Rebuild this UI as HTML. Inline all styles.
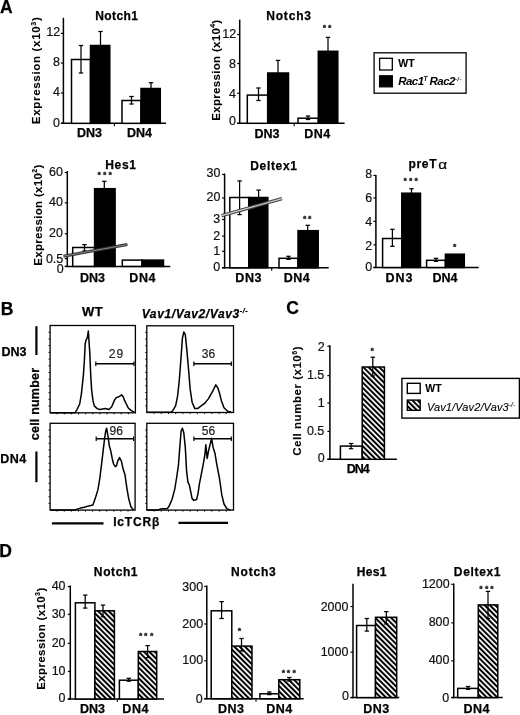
<!DOCTYPE html><html><head><meta charset="utf-8"><title>Figure</title><style>html,body{margin:0;padding:0;background:#fff;}svg{display:block;}text{font-family:'Liberation Sans', Arial, Helvetica, sans-serif;}</style></head><body>
<svg width="520" height="715" viewBox="0 0 520 715">
<defs><pattern id="hatch" patternUnits="userSpaceOnUse" width="3.75" height="3.75" patternTransform="rotate(-45)"><rect width="3.75" height="3.75" fill="#fff"/><rect x="0" y="0" width="2.0" height="3.75" fill="#000"/></pattern></defs>
<rect width="520" height="715" fill="#fff"/>
<line x1="63.40" y1="17.80" x2="63.40" y2="123.95" stroke="#000" stroke-width="1.5"/>
<line x1="60.90" y1="123.35" x2="166.00" y2="123.35" stroke="#000" stroke-width="1.5"/>
<line x1="60.90" y1="123.35" x2="63.40" y2="123.35" stroke="#000" stroke-width="1.2"/>
<line x1="60.90" y1="93.00" x2="63.40" y2="93.00" stroke="#000" stroke-width="1.2"/>
<line x1="60.90" y1="63.00" x2="63.40" y2="63.00" stroke="#000" stroke-width="1.2"/>
<line x1="60.90" y1="33.40" x2="63.40" y2="33.40" stroke="#000" stroke-width="1.2"/>
<line x1="114.40" y1="123.35" x2="114.40" y2="126.35" stroke="#000" stroke-width="1.1"/>
<rect x="71.50" y="59.50" width="19.00" height="63.85" fill="#fff" stroke="#000" stroke-width="1.5"/>
<line x1="81.00" y1="45.50" x2="81.00" y2="73.00" stroke="#000" stroke-width="1.25"/>
<line x1="78.80" y1="45.50" x2="83.20" y2="45.50" stroke="#000" stroke-width="1.25"/>
<line x1="78.80" y1="73.00" x2="83.20" y2="73.00" stroke="#000" stroke-width="1.25"/>
<rect x="90.50" y="45.50" width="19.30" height="77.85" fill="#000" stroke="#000" stroke-width="1.5"/>
<line x1="100.50" y1="31.50" x2="100.50" y2="50.00" stroke="#000" stroke-width="1.25"/>
<line x1="98.30" y1="31.50" x2="102.70" y2="31.50" stroke="#000" stroke-width="1.25"/>
<line x1="98.30" y1="50.00" x2="102.70" y2="50.00" stroke="#000" stroke-width="1.25"/>
<rect x="122.00" y="100.50" width="19.00" height="22.85" fill="#fff" stroke="#000" stroke-width="1.5"/>
<line x1="131.50" y1="96.50" x2="131.50" y2="104.00" stroke="#000" stroke-width="1.25"/>
<line x1="129.30" y1="96.50" x2="133.70" y2="96.50" stroke="#000" stroke-width="1.25"/>
<line x1="129.30" y1="104.00" x2="133.70" y2="104.00" stroke="#000" stroke-width="1.25"/>
<rect x="141.00" y="88.50" width="19.30" height="34.85" fill="#000" stroke="#000" stroke-width="1.5"/>
<line x1="151.00" y1="82.70" x2="151.00" y2="92.00" stroke="#000" stroke-width="1.25"/>
<line x1="148.80" y1="82.70" x2="153.20" y2="82.70" stroke="#000" stroke-width="1.25"/>
<line x1="148.80" y1="92.00" x2="153.20" y2="92.00" stroke="#000" stroke-width="1.25"/>
<line x1="239.70" y1="19.60" x2="239.70" y2="123.90" stroke="#000" stroke-width="1.5"/>
<line x1="237.20" y1="123.30" x2="344.60" y2="123.30" stroke="#000" stroke-width="1.5"/>
<line x1="237.20" y1="123.30" x2="239.70" y2="123.30" stroke="#000" stroke-width="1.2"/>
<line x1="237.20" y1="93.30" x2="239.70" y2="93.30" stroke="#000" stroke-width="1.2"/>
<line x1="237.20" y1="63.50" x2="239.70" y2="63.50" stroke="#000" stroke-width="1.2"/>
<line x1="237.20" y1="34.50" x2="239.70" y2="34.50" stroke="#000" stroke-width="1.2"/>
<line x1="294.20" y1="123.30" x2="294.20" y2="126.30" stroke="#000" stroke-width="1.1"/>
<rect x="247.30" y="95.10" width="20.40" height="28.20" fill="#fff" stroke="#000" stroke-width="1.5"/>
<line x1="258.50" y1="88.00" x2="258.50" y2="100.50" stroke="#000" stroke-width="1.25"/>
<line x1="256.30" y1="88.00" x2="260.70" y2="88.00" stroke="#000" stroke-width="1.25"/>
<line x1="256.30" y1="100.50" x2="260.70" y2="100.50" stroke="#000" stroke-width="1.25"/>
<rect x="267.70" y="73.00" width="20.80" height="50.30" fill="#000" stroke="#000" stroke-width="1.5"/>
<line x1="278.00" y1="60.40" x2="278.00" y2="78.00" stroke="#000" stroke-width="1.25"/>
<line x1="275.80" y1="60.40" x2="280.20" y2="60.40" stroke="#000" stroke-width="1.25"/>
<line x1="275.80" y1="78.00" x2="280.20" y2="78.00" stroke="#000" stroke-width="1.25"/>
<rect x="298.00" y="118.20" width="20.30" height="5.10" fill="#fff" stroke="#000" stroke-width="1.5"/>
<line x1="308.00" y1="116.00" x2="308.00" y2="119.50" stroke="#000" stroke-width="1.25"/>
<line x1="305.80" y1="116.00" x2="310.20" y2="116.00" stroke="#000" stroke-width="1.25"/>
<line x1="305.80" y1="119.50" x2="310.20" y2="119.50" stroke="#000" stroke-width="1.25"/>
<rect x="318.30" y="51.30" width="19.50" height="72.00" fill="#000" stroke="#000" stroke-width="1.5"/>
<line x1="328.00" y1="37.30" x2="328.00" y2="56.00" stroke="#000" stroke-width="1.25"/>
<line x1="325.80" y1="37.30" x2="330.20" y2="37.30" stroke="#000" stroke-width="1.25"/>
<line x1="325.80" y1="56.00" x2="330.20" y2="56.00" stroke="#000" stroke-width="1.25"/>
<rect x="374.10" y="52.80" width="92.00" height="40.40" fill="#fff" stroke="#000" stroke-width="1.3"/>
<rect x="379.60" y="58.30" width="12.70" height="11.70" fill="#fff" stroke="#000" stroke-width="1.3"/>
<rect x="379.60" y="75.80" width="12.70" height="11.00" fill="#000" stroke="#000" stroke-width="1.3"/>
<line x1="67.30" y1="171.10" x2="67.30" y2="267.00" stroke="#000" stroke-width="1.5"/>
<line x1="64.80" y1="266.40" x2="170.30" y2="266.40" stroke="#000" stroke-width="1.5"/>
<line x1="64.80" y1="266.40" x2="67.30" y2="266.40" stroke="#000" stroke-width="1.2"/>
<line x1="64.80" y1="258.60" x2="67.30" y2="258.60" stroke="#000" stroke-width="1.2"/>
<line x1="64.80" y1="233.80" x2="67.30" y2="233.80" stroke="#000" stroke-width="1.2"/>
<line x1="64.80" y1="202.80" x2="67.30" y2="202.80" stroke="#000" stroke-width="1.2"/>
<line x1="64.80" y1="172.50" x2="67.30" y2="172.50" stroke="#000" stroke-width="1.2"/>
<rect x="72.70" y="247.50" width="21.90" height="18.90" fill="#fff" stroke="#000" stroke-width="1.5"/>
<line x1="84.50" y1="244.60" x2="84.50" y2="251.00" stroke="#000" stroke-width="1.25"/>
<line x1="82.30" y1="244.60" x2="86.70" y2="244.60" stroke="#000" stroke-width="1.25"/>
<line x1="82.30" y1="251.00" x2="86.70" y2="251.00" stroke="#000" stroke-width="1.25"/>
<rect x="94.60" y="188.70" width="20.50" height="77.70" fill="#000" stroke="#000" stroke-width="1.5"/>
<line x1="104.30" y1="181.30" x2="104.30" y2="194.00" stroke="#000" stroke-width="1.25"/>
<line x1="102.10" y1="181.30" x2="106.50" y2="181.30" stroke="#000" stroke-width="1.25"/>
<line x1="102.10" y1="194.00" x2="106.50" y2="194.00" stroke="#000" stroke-width="1.25"/>
<rect x="122.30" y="260.10" width="19.70" height="6.30" fill="#fff" stroke="#000" stroke-width="1.5"/>
<rect x="142.00" y="260.10" width="21.50" height="6.30" fill="#000" stroke="#000" stroke-width="1.5"/>
<line x1="63.50" y1="256.20" x2="127.40" y2="244.60" stroke="#333" stroke-width="3.0"/>
<line x1="63.50" y1="256.20" x2="127.40" y2="244.60" stroke="#999" stroke-width="0.8"/>
<line x1="224.60" y1="173.50" x2="224.60" y2="268.40" stroke="#000" stroke-width="1.5"/>
<line x1="222.10" y1="267.80" x2="328.70" y2="267.80" stroke="#000" stroke-width="1.5"/>
<line x1="222.10" y1="267.80" x2="224.60" y2="267.80" stroke="#000" stroke-width="1.2"/>
<line x1="222.10" y1="251.30" x2="224.60" y2="251.30" stroke="#000" stroke-width="1.2"/>
<line x1="222.10" y1="236.10" x2="224.60" y2="236.10" stroke="#000" stroke-width="1.2"/>
<line x1="222.10" y1="219.50" x2="224.60" y2="219.50" stroke="#000" stroke-width="1.2"/>
<line x1="222.10" y1="198.00" x2="224.60" y2="198.00" stroke="#000" stroke-width="1.2"/>
<line x1="222.10" y1="174.50" x2="224.60" y2="174.50" stroke="#000" stroke-width="1.2"/>
<line x1="271.70" y1="267.80" x2="271.70" y2="270.80" stroke="#000" stroke-width="1.1"/>
<rect x="229.80" y="197.50" width="19.00" height="70.30" fill="#fff" stroke="#000" stroke-width="1.5"/>
<line x1="239.60" y1="180.90" x2="239.60" y2="214.60" stroke="#000" stroke-width="1.25"/>
<line x1="237.40" y1="180.90" x2="241.80" y2="180.90" stroke="#000" stroke-width="1.25"/>
<line x1="237.40" y1="214.60" x2="241.80" y2="214.60" stroke="#000" stroke-width="1.25"/>
<rect x="248.80" y="197.50" width="19.00" height="70.30" fill="#000" stroke="#000" stroke-width="1.5"/>
<line x1="258.60" y1="190.10" x2="258.60" y2="204.00" stroke="#000" stroke-width="1.25"/>
<line x1="256.40" y1="190.10" x2="260.80" y2="190.10" stroke="#000" stroke-width="1.25"/>
<line x1="256.40" y1="204.00" x2="260.80" y2="204.00" stroke="#000" stroke-width="1.25"/>
<rect x="279.00" y="258.30" width="19.00" height="9.50" fill="#fff" stroke="#000" stroke-width="1.5"/>
<line x1="288.50" y1="256.30" x2="288.50" y2="259.30" stroke="#000" stroke-width="1.25"/>
<line x1="286.30" y1="256.30" x2="290.70" y2="256.30" stroke="#000" stroke-width="1.25"/>
<line x1="286.30" y1="259.30" x2="290.70" y2="259.30" stroke="#000" stroke-width="1.25"/>
<rect x="298.00" y="230.70" width="20.20" height="37.10" fill="#000" stroke="#000" stroke-width="1.5"/>
<line x1="307.70" y1="225.30" x2="307.70" y2="235.00" stroke="#000" stroke-width="1.25"/>
<line x1="305.50" y1="225.30" x2="309.90" y2="225.30" stroke="#000" stroke-width="1.25"/>
<line x1="305.50" y1="235.00" x2="309.90" y2="235.00" stroke="#000" stroke-width="1.25"/>
<line x1="221.6" y1="215.6" x2="282" y2="198.6" stroke="#444" stroke-width="3.4"/>
<line x1="221.6" y1="215.6" x2="282" y2="198.6" stroke="#d0d0d0" stroke-width="1.1"/>
<line x1="375.90" y1="175.00" x2="375.90" y2="268.10" stroke="#000" stroke-width="1.5"/>
<line x1="373.40" y1="267.50" x2="478.70" y2="267.50" stroke="#000" stroke-width="1.5"/>
<line x1="373.40" y1="267.50" x2="375.90" y2="267.50" stroke="#000" stroke-width="1.2"/>
<line x1="373.40" y1="244.90" x2="375.90" y2="244.90" stroke="#000" stroke-width="1.2"/>
<line x1="373.40" y1="221.40" x2="375.90" y2="221.40" stroke="#000" stroke-width="1.2"/>
<line x1="373.40" y1="198.00" x2="375.90" y2="198.00" stroke="#000" stroke-width="1.2"/>
<line x1="373.40" y1="175.40" x2="375.90" y2="175.40" stroke="#000" stroke-width="1.2"/>
<rect x="382.60" y="238.50" width="19.20" height="29.00" fill="#fff" stroke="#000" stroke-width="1.5"/>
<line x1="392.40" y1="229.30" x2="392.40" y2="246.30" stroke="#000" stroke-width="1.25"/>
<line x1="390.20" y1="229.30" x2="394.60" y2="229.30" stroke="#000" stroke-width="1.25"/>
<line x1="390.20" y1="246.30" x2="394.60" y2="246.30" stroke="#000" stroke-width="1.25"/>
<rect x="401.80" y="193.20" width="18.70" height="74.30" fill="#000" stroke="#000" stroke-width="1.5"/>
<line x1="411.50" y1="188.70" x2="411.50" y2="197.00" stroke="#000" stroke-width="1.25"/>
<line x1="409.30" y1="188.70" x2="413.70" y2="188.70" stroke="#000" stroke-width="1.25"/>
<line x1="409.30" y1="197.00" x2="413.70" y2="197.00" stroke="#000" stroke-width="1.25"/>
<rect x="426.60" y="260.30" width="18.80" height="7.20" fill="#fff" stroke="#000" stroke-width="1.5"/>
<line x1="436.00" y1="258.30" x2="436.00" y2="261.30" stroke="#000" stroke-width="1.25"/>
<line x1="433.80" y1="258.30" x2="438.20" y2="258.30" stroke="#000" stroke-width="1.25"/>
<line x1="433.80" y1="261.30" x2="438.20" y2="261.30" stroke="#000" stroke-width="1.25"/>
<rect x="445.40" y="254.20" width="18.90" height="13.30" fill="#000" stroke="#000" stroke-width="1.5"/>
<line x1="36.40" y1="326.20" x2="36.40" y2="355.00" stroke="#000" stroke-width="2.2"/>
<line x1="36.40" y1="451.50" x2="36.40" y2="482.20" stroke="#000" stroke-width="2.2"/>
<line x1="51.90" y1="523.30" x2="103.50" y2="523.30" stroke="#000" stroke-width="2.2"/>
<line x1="178.50" y1="522.90" x2="228.10" y2="522.90" stroke="#000" stroke-width="2.2"/>
<rect x="50.1" y="325.5" width="85.30" height="87.30" fill="none" stroke="#000" stroke-width="1.3"/>
<line x1="48.50" y1="406.08" x2="50.10" y2="406.08" stroke="#000" stroke-width="0.9"/>
<line x1="48.50" y1="399.37" x2="50.10" y2="399.37" stroke="#000" stroke-width="0.9"/>
<line x1="48.50" y1="392.65" x2="50.10" y2="392.65" stroke="#000" stroke-width="0.9"/>
<line x1="48.50" y1="385.94" x2="50.10" y2="385.94" stroke="#000" stroke-width="0.9"/>
<line x1="48.50" y1="379.22" x2="50.10" y2="379.22" stroke="#000" stroke-width="0.9"/>
<line x1="48.50" y1="372.51" x2="50.10" y2="372.51" stroke="#000" stroke-width="0.9"/>
<line x1="48.50" y1="365.79" x2="50.10" y2="365.79" stroke="#000" stroke-width="0.9"/>
<line x1="48.50" y1="359.08" x2="50.10" y2="359.08" stroke="#000" stroke-width="0.9"/>
<line x1="48.50" y1="352.36" x2="50.10" y2="352.36" stroke="#000" stroke-width="0.9"/>
<line x1="48.50" y1="345.65" x2="50.10" y2="345.65" stroke="#000" stroke-width="0.9"/>
<line x1="48.50" y1="338.93" x2="50.10" y2="338.93" stroke="#000" stroke-width="0.9"/>
<line x1="48.50" y1="332.22" x2="50.10" y2="332.22" stroke="#000" stroke-width="0.9"/>
<line x1="57.21" y1="412.80" x2="57.21" y2="414.40" stroke="#000" stroke-width="0.9"/>
<line x1="64.32" y1="412.80" x2="64.32" y2="414.40" stroke="#000" stroke-width="0.9"/>
<line x1="71.43" y1="412.80" x2="71.43" y2="414.40" stroke="#000" stroke-width="0.9"/>
<line x1="78.53" y1="412.80" x2="78.53" y2="414.40" stroke="#000" stroke-width="0.9"/>
<line x1="85.64" y1="412.80" x2="85.64" y2="414.40" stroke="#000" stroke-width="0.9"/>
<line x1="92.75" y1="412.80" x2="92.75" y2="414.40" stroke="#000" stroke-width="0.9"/>
<line x1="99.86" y1="412.80" x2="99.86" y2="414.40" stroke="#000" stroke-width="0.9"/>
<line x1="106.97" y1="412.80" x2="106.97" y2="414.40" stroke="#000" stroke-width="0.9"/>
<line x1="114.08" y1="412.80" x2="114.08" y2="414.40" stroke="#000" stroke-width="0.9"/>
<line x1="121.18" y1="412.80" x2="121.18" y2="414.40" stroke="#000" stroke-width="0.9"/>
<line x1="128.29" y1="412.80" x2="128.29" y2="414.40" stroke="#000" stroke-width="0.9"/>
<polyline points="50.1,412.8 75.1,412.8 77.0,409.5 79.7,404.0 81.5,393.1 83.4,374.8 84.3,362.0 85.2,343.7 86.1,340.1 87.4,337.4 88.3,331.0 88.8,338.3 89.8,352.9 90.7,374.8 91.6,389.4 92.9,400.4 94.3,405.9 97.1,408.6 99.8,409.5 105.3,408.6 108.9,409.5 111.7,406.8 114.4,400.4 116.2,397.6 119.0,396.7 121.7,394.9 123.2,396.7 124.5,400.4 126.3,404.0 128.1,407.7 130.9,410.4 134.5,412.3" fill="none" stroke="#000" stroke-width="1.5" stroke-linejoin="round"/>
<line x1="95.80" y1="363.80" x2="134.00" y2="363.80" stroke="#000" stroke-width="1.4"/>
<line x1="95.80" y1="361.50" x2="95.80" y2="366.10" stroke="#000" stroke-width="1.2"/>
<line x1="134.00" y1="361.50" x2="134.00" y2="366.10" stroke="#000" stroke-width="1.2"/>
<rect x="146.8" y="325.8" width="86.70" height="86.70" fill="none" stroke="#000" stroke-width="1.3"/>
<line x1="145.20" y1="405.83" x2="146.80" y2="405.83" stroke="#000" stroke-width="0.9"/>
<line x1="145.20" y1="399.16" x2="146.80" y2="399.16" stroke="#000" stroke-width="0.9"/>
<line x1="145.20" y1="392.49" x2="146.80" y2="392.49" stroke="#000" stroke-width="0.9"/>
<line x1="145.20" y1="385.82" x2="146.80" y2="385.82" stroke="#000" stroke-width="0.9"/>
<line x1="145.20" y1="379.15" x2="146.80" y2="379.15" stroke="#000" stroke-width="0.9"/>
<line x1="145.20" y1="372.48" x2="146.80" y2="372.48" stroke="#000" stroke-width="0.9"/>
<line x1="145.20" y1="365.82" x2="146.80" y2="365.82" stroke="#000" stroke-width="0.9"/>
<line x1="145.20" y1="359.15" x2="146.80" y2="359.15" stroke="#000" stroke-width="0.9"/>
<line x1="145.20" y1="352.48" x2="146.80" y2="352.48" stroke="#000" stroke-width="0.9"/>
<line x1="145.20" y1="345.81" x2="146.80" y2="345.81" stroke="#000" stroke-width="0.9"/>
<line x1="145.20" y1="339.14" x2="146.80" y2="339.14" stroke="#000" stroke-width="0.9"/>
<line x1="145.20" y1="332.47" x2="146.80" y2="332.47" stroke="#000" stroke-width="0.9"/>
<line x1="154.03" y1="412.50" x2="154.03" y2="414.10" stroke="#000" stroke-width="0.9"/>
<line x1="161.25" y1="412.50" x2="161.25" y2="414.10" stroke="#000" stroke-width="0.9"/>
<line x1="168.48" y1="412.50" x2="168.48" y2="414.10" stroke="#000" stroke-width="0.9"/>
<line x1="175.70" y1="412.50" x2="175.70" y2="414.10" stroke="#000" stroke-width="0.9"/>
<line x1="182.93" y1="412.50" x2="182.93" y2="414.10" stroke="#000" stroke-width="0.9"/>
<line x1="190.15" y1="412.50" x2="190.15" y2="414.10" stroke="#000" stroke-width="0.9"/>
<line x1="197.38" y1="412.50" x2="197.38" y2="414.10" stroke="#000" stroke-width="0.9"/>
<line x1="204.60" y1="412.50" x2="204.60" y2="414.10" stroke="#000" stroke-width="0.9"/>
<line x1="211.82" y1="412.50" x2="211.82" y2="414.10" stroke="#000" stroke-width="0.9"/>
<line x1="219.05" y1="412.50" x2="219.05" y2="414.10" stroke="#000" stroke-width="0.9"/>
<line x1="226.27" y1="412.50" x2="226.27" y2="414.10" stroke="#000" stroke-width="0.9"/>
<polyline points="146.8,412.3 171.1,412.3 172.9,410.4 175.6,405.9 177.5,396.7 179.3,380.3 181.1,356.5 182.4,338.3 183.8,331.9 185.3,334.6 186.6,347.4 188.4,367.5 190.2,389.4 192.1,402.2 194.8,408.6 197.5,408.6 201.2,405.9 204.9,403.1 208.5,398.6 212.2,392.2 214.0,388.5 215.8,384.9 217.6,387.6 219.5,393.1 221.3,400.4 224.0,407.7 227.7,411.3 231.3,412.3" fill="none" stroke="#000" stroke-width="1.5" stroke-linejoin="round"/>
<line x1="193.90" y1="363.80" x2="231.30" y2="363.80" stroke="#000" stroke-width="1.4"/>
<line x1="193.90" y1="361.50" x2="193.90" y2="366.10" stroke="#000" stroke-width="1.2"/>
<line x1="231.30" y1="361.50" x2="231.30" y2="366.10" stroke="#000" stroke-width="1.2"/>
<rect x="50.1" y="423.3" width="85.00" height="86.80" fill="none" stroke="#000" stroke-width="1.3"/>
<line x1="48.50" y1="503.42" x2="50.10" y2="503.42" stroke="#000" stroke-width="0.9"/>
<line x1="48.50" y1="496.75" x2="50.10" y2="496.75" stroke="#000" stroke-width="0.9"/>
<line x1="48.50" y1="490.07" x2="50.10" y2="490.07" stroke="#000" stroke-width="0.9"/>
<line x1="48.50" y1="483.39" x2="50.10" y2="483.39" stroke="#000" stroke-width="0.9"/>
<line x1="48.50" y1="476.72" x2="50.10" y2="476.72" stroke="#000" stroke-width="0.9"/>
<line x1="48.50" y1="470.04" x2="50.10" y2="470.04" stroke="#000" stroke-width="0.9"/>
<line x1="48.50" y1="463.36" x2="50.10" y2="463.36" stroke="#000" stroke-width="0.9"/>
<line x1="48.50" y1="456.68" x2="50.10" y2="456.68" stroke="#000" stroke-width="0.9"/>
<line x1="48.50" y1="450.01" x2="50.10" y2="450.01" stroke="#000" stroke-width="0.9"/>
<line x1="48.50" y1="443.33" x2="50.10" y2="443.33" stroke="#000" stroke-width="0.9"/>
<line x1="48.50" y1="436.65" x2="50.10" y2="436.65" stroke="#000" stroke-width="0.9"/>
<line x1="48.50" y1="429.98" x2="50.10" y2="429.98" stroke="#000" stroke-width="0.9"/>
<line x1="57.18" y1="510.10" x2="57.18" y2="511.70" stroke="#000" stroke-width="0.9"/>
<line x1="64.27" y1="510.10" x2="64.27" y2="511.70" stroke="#000" stroke-width="0.9"/>
<line x1="71.35" y1="510.10" x2="71.35" y2="511.70" stroke="#000" stroke-width="0.9"/>
<line x1="78.43" y1="510.10" x2="78.43" y2="511.70" stroke="#000" stroke-width="0.9"/>
<line x1="85.52" y1="510.10" x2="85.52" y2="511.70" stroke="#000" stroke-width="0.9"/>
<line x1="92.60" y1="510.10" x2="92.60" y2="511.70" stroke="#000" stroke-width="0.9"/>
<line x1="99.68" y1="510.10" x2="99.68" y2="511.70" stroke="#000" stroke-width="0.9"/>
<line x1="106.77" y1="510.10" x2="106.77" y2="511.70" stroke="#000" stroke-width="0.9"/>
<line x1="113.85" y1="510.10" x2="113.85" y2="511.70" stroke="#000" stroke-width="0.9"/>
<line x1="120.93" y1="510.10" x2="120.93" y2="511.70" stroke="#000" stroke-width="0.9"/>
<line x1="128.02" y1="510.10" x2="128.02" y2="511.70" stroke="#000" stroke-width="0.9"/>
<polyline points="50.1,510.1 75.0,510.1 77.0,509.1 80.6,508.1 84.3,507.3 88.8,505.9 92.9,504.9 95.2,498.6 98.0,489.4 99.8,478.5 101.6,463.8 103.1,451.1 104.4,440.1 105.7,431.0 106.6,428.2 108.0,436.4 109.3,445.6 110.8,451.1 112.2,458.4 113.5,463.8 115.3,466.6 116.6,465.7 117.7,461.1 119.5,457.5 121.4,461.1 123.2,469.3 125.0,474.8 126.8,487.6 128.7,498.6 130.9,506.8 133.6,510.1" fill="none" stroke="#000" stroke-width="1.5" stroke-linejoin="round"/>
<line x1="96.20" y1="438.80" x2="133.60" y2="438.80" stroke="#000" stroke-width="1.4"/>
<line x1="96.20" y1="436.50" x2="96.20" y2="441.10" stroke="#000" stroke-width="1.2"/>
<line x1="133.60" y1="436.50" x2="133.60" y2="441.10" stroke="#000" stroke-width="1.2"/>
<rect x="146.8" y="423.3" width="86.70" height="86.80" fill="none" stroke="#000" stroke-width="1.3"/>
<line x1="145.20" y1="503.42" x2="146.80" y2="503.42" stroke="#000" stroke-width="0.9"/>
<line x1="145.20" y1="496.75" x2="146.80" y2="496.75" stroke="#000" stroke-width="0.9"/>
<line x1="145.20" y1="490.07" x2="146.80" y2="490.07" stroke="#000" stroke-width="0.9"/>
<line x1="145.20" y1="483.39" x2="146.80" y2="483.39" stroke="#000" stroke-width="0.9"/>
<line x1="145.20" y1="476.72" x2="146.80" y2="476.72" stroke="#000" stroke-width="0.9"/>
<line x1="145.20" y1="470.04" x2="146.80" y2="470.04" stroke="#000" stroke-width="0.9"/>
<line x1="145.20" y1="463.36" x2="146.80" y2="463.36" stroke="#000" stroke-width="0.9"/>
<line x1="145.20" y1="456.68" x2="146.80" y2="456.68" stroke="#000" stroke-width="0.9"/>
<line x1="145.20" y1="450.01" x2="146.80" y2="450.01" stroke="#000" stroke-width="0.9"/>
<line x1="145.20" y1="443.33" x2="146.80" y2="443.33" stroke="#000" stroke-width="0.9"/>
<line x1="145.20" y1="436.65" x2="146.80" y2="436.65" stroke="#000" stroke-width="0.9"/>
<line x1="145.20" y1="429.98" x2="146.80" y2="429.98" stroke="#000" stroke-width="0.9"/>
<line x1="154.03" y1="510.10" x2="154.03" y2="511.70" stroke="#000" stroke-width="0.9"/>
<line x1="161.25" y1="510.10" x2="161.25" y2="511.70" stroke="#000" stroke-width="0.9"/>
<line x1="168.48" y1="510.10" x2="168.48" y2="511.70" stroke="#000" stroke-width="0.9"/>
<line x1="175.70" y1="510.10" x2="175.70" y2="511.70" stroke="#000" stroke-width="0.9"/>
<line x1="182.93" y1="510.10" x2="182.93" y2="511.70" stroke="#000" stroke-width="0.9"/>
<line x1="190.15" y1="510.10" x2="190.15" y2="511.70" stroke="#000" stroke-width="0.9"/>
<line x1="197.38" y1="510.10" x2="197.38" y2="511.70" stroke="#000" stroke-width="0.9"/>
<line x1="204.60" y1="510.10" x2="204.60" y2="511.70" stroke="#000" stroke-width="0.9"/>
<line x1="211.82" y1="510.10" x2="211.82" y2="511.70" stroke="#000" stroke-width="0.9"/>
<line x1="219.05" y1="510.10" x2="219.05" y2="511.70" stroke="#000" stroke-width="0.9"/>
<line x1="226.27" y1="510.10" x2="226.27" y2="511.70" stroke="#000" stroke-width="0.9"/>
<polyline points="146.8,510.1 158.3,510.1 160.1,509.1 167.4,508.6 169.2,505.9 172.0,499.5 174.7,489.4 176.5,478.5 178.4,465.7 179.8,447.4 181.1,431.0 182.4,428.2 183.8,432.8 185.3,447.4 186.6,471.2 187.9,482.1 189.3,484.9 190.8,492.2 192.1,498.6 193.9,500.4 196.6,499.5 198.1,493.1 199.4,483.9 201.2,474.8 203.0,465.7 204.9,454.7 205.8,444.7 207.2,458.4 208.5,451.1 210.3,443.7 211.6,438.3 213.1,447.4 214.9,452.9 216.7,463.8 219.5,478.5 221.8,494.9 224.0,504.0 226.8,508.6 230.4,510.1" fill="none" stroke="#000" stroke-width="1.5" stroke-linejoin="round"/>
<line x1="193.90" y1="438.80" x2="231.30" y2="438.80" stroke="#000" stroke-width="1.4"/>
<line x1="193.90" y1="436.50" x2="193.90" y2="441.10" stroke="#000" stroke-width="1.2"/>
<line x1="231.30" y1="436.50" x2="231.30" y2="441.10" stroke="#000" stroke-width="1.2"/>
<line x1="329.90" y1="345.30" x2="329.90" y2="459.90" stroke="#000" stroke-width="1.5"/>
<line x1="327.40" y1="459.30" x2="396.90" y2="459.30" stroke="#000" stroke-width="1.5"/>
<line x1="327.40" y1="459.30" x2="329.90" y2="459.30" stroke="#000" stroke-width="1.2"/>
<line x1="327.40" y1="431.40" x2="329.90" y2="431.40" stroke="#000" stroke-width="1.2"/>
<line x1="327.40" y1="403.00" x2="329.90" y2="403.00" stroke="#000" stroke-width="1.2"/>
<line x1="327.40" y1="375.60" x2="329.90" y2="375.60" stroke="#000" stroke-width="1.2"/>
<line x1="327.40" y1="346.30" x2="329.90" y2="346.30" stroke="#000" stroke-width="1.2"/>
<rect x="340.40" y="446.10" width="21.80" height="13.20" fill="#fff" stroke="#000" stroke-width="1.5"/>
<line x1="351.10" y1="443.50" x2="351.10" y2="448.70" stroke="#000" stroke-width="1.25"/>
<line x1="348.90" y1="443.50" x2="353.30" y2="443.50" stroke="#000" stroke-width="1.25"/>
<line x1="348.90" y1="448.70" x2="353.30" y2="448.70" stroke="#000" stroke-width="1.25"/>
<rect x="362.20" y="367.00" width="22.20" height="92.30" fill="url(#hatch)" stroke="#000" stroke-width="1.5"/>
<line x1="372.80" y1="357.20" x2="372.80" y2="376.00" stroke="#000" stroke-width="1.25"/>
<line x1="370.60" y1="357.20" x2="375.00" y2="357.20" stroke="#000" stroke-width="1.25"/>
<line x1="370.60" y1="376.00" x2="375.00" y2="376.00" stroke="#000" stroke-width="1.25"/>
<rect x="401.90" y="378.40" width="117.50" height="39.70" fill="#fff" stroke="#000" stroke-width="1.4"/>
<rect x="407.30" y="383.30" width="12.90" height="10.10" fill="#fff" stroke="#000" stroke-width="1.4"/>
<rect x="407.30" y="400.10" width="12.90" height="10.20" fill="url(#hatch)" stroke="#000" stroke-width="1.4"/>
<line x1="70.30" y1="585.40" x2="70.30" y2="699.60" stroke="#000" stroke-width="1.5"/>
<line x1="67.80" y1="699.00" x2="164.00" y2="699.00" stroke="#000" stroke-width="1.5"/>
<line x1="67.80" y1="699.00" x2="70.30" y2="699.00" stroke="#000" stroke-width="1.2"/>
<line x1="67.80" y1="671.50" x2="70.30" y2="671.50" stroke="#000" stroke-width="1.2"/>
<line x1="67.80" y1="643.30" x2="70.30" y2="643.30" stroke="#000" stroke-width="1.2"/>
<line x1="67.80" y1="614.30" x2="70.30" y2="614.30" stroke="#000" stroke-width="1.2"/>
<line x1="67.80" y1="586.60" x2="70.30" y2="586.60" stroke="#000" stroke-width="1.2"/>
<line x1="117.30" y1="699.00" x2="117.30" y2="702.00" stroke="#000" stroke-width="1.1"/>
<rect x="75.40" y="602.80" width="19.50" height="96.20" fill="#fff" stroke="#000" stroke-width="1.5"/>
<line x1="85.20" y1="595.10" x2="85.20" y2="608.10" stroke="#000" stroke-width="1.25"/>
<line x1="83.00" y1="595.10" x2="87.40" y2="595.10" stroke="#000" stroke-width="1.25"/>
<line x1="83.00" y1="608.10" x2="87.40" y2="608.10" stroke="#000" stroke-width="1.25"/>
<rect x="94.90" y="610.80" width="19.50" height="88.20" fill="url(#hatch)" stroke="#000" stroke-width="1.5"/>
<line x1="103.00" y1="605.10" x2="103.00" y2="616.80" stroke="#000" stroke-width="1.25"/>
<line x1="100.80" y1="605.10" x2="105.20" y2="605.10" stroke="#000" stroke-width="1.25"/>
<line x1="100.80" y1="616.80" x2="105.20" y2="616.80" stroke="#000" stroke-width="1.25"/>
<rect x="119.40" y="680.20" width="18.90" height="18.80" fill="#fff" stroke="#000" stroke-width="1.5"/>
<line x1="128.80" y1="678.30" x2="128.80" y2="681.20" stroke="#000" stroke-width="1.25"/>
<line x1="126.60" y1="678.30" x2="131.00" y2="678.30" stroke="#000" stroke-width="1.25"/>
<line x1="126.60" y1="681.20" x2="131.00" y2="681.20" stroke="#000" stroke-width="1.25"/>
<rect x="138.30" y="651.50" width="18.40" height="47.50" fill="url(#hatch)" stroke="#000" stroke-width="1.5"/>
<line x1="147.60" y1="645.60" x2="147.60" y2="657.60" stroke="#000" stroke-width="1.25"/>
<line x1="145.40" y1="645.60" x2="149.80" y2="645.60" stroke="#000" stroke-width="1.25"/>
<line x1="145.40" y1="657.60" x2="149.80" y2="657.60" stroke="#000" stroke-width="1.25"/>
<line x1="206.80" y1="585.60" x2="206.80" y2="699.35" stroke="#000" stroke-width="1.5"/>
<line x1="204.30" y1="698.75" x2="303.70" y2="698.75" stroke="#000" stroke-width="1.5"/>
<line x1="204.30" y1="698.75" x2="206.80" y2="698.75" stroke="#000" stroke-width="1.2"/>
<line x1="204.30" y1="660.80" x2="206.80" y2="660.80" stroke="#000" stroke-width="1.2"/>
<line x1="204.30" y1="624.00" x2="206.80" y2="624.00" stroke="#000" stroke-width="1.2"/>
<line x1="204.30" y1="586.40" x2="206.80" y2="586.40" stroke="#000" stroke-width="1.2"/>
<line x1="256.00" y1="698.75" x2="256.00" y2="701.75" stroke="#000" stroke-width="1.1"/>
<rect x="211.20" y="610.80" width="20.60" height="87.95" fill="#fff" stroke="#000" stroke-width="1.5"/>
<line x1="221.60" y1="601.60" x2="221.60" y2="618.50" stroke="#000" stroke-width="1.25"/>
<line x1="219.40" y1="601.60" x2="223.80" y2="601.60" stroke="#000" stroke-width="1.25"/>
<line x1="219.40" y1="618.50" x2="223.80" y2="618.50" stroke="#000" stroke-width="1.25"/>
<rect x="231.80" y="646.10" width="20.20" height="52.65" fill="url(#hatch)" stroke="#000" stroke-width="1.5"/>
<line x1="241.50" y1="638.50" x2="241.50" y2="651.00" stroke="#000" stroke-width="1.25"/>
<line x1="239.30" y1="638.50" x2="243.70" y2="638.50" stroke="#000" stroke-width="1.25"/>
<line x1="239.30" y1="651.00" x2="243.70" y2="651.00" stroke="#000" stroke-width="1.25"/>
<rect x="259.90" y="693.80" width="18.90" height="4.95" fill="#fff" stroke="#000" stroke-width="1.5"/>
<line x1="269.30" y1="692.00" x2="269.30" y2="694.60" stroke="#000" stroke-width="1.25"/>
<line x1="267.10" y1="692.00" x2="271.50" y2="692.00" stroke="#000" stroke-width="1.25"/>
<line x1="267.10" y1="694.60" x2="271.50" y2="694.60" stroke="#000" stroke-width="1.25"/>
<rect x="278.80" y="679.70" width="21.00" height="19.05" fill="url(#hatch)" stroke="#000" stroke-width="1.5"/>
<line x1="289.30" y1="677.50" x2="289.30" y2="681.00" stroke="#000" stroke-width="1.25"/>
<line x1="287.10" y1="677.50" x2="291.50" y2="677.50" stroke="#000" stroke-width="1.25"/>
<line x1="287.10" y1="681.00" x2="291.50" y2="681.00" stroke="#000" stroke-width="1.25"/>
<line x1="353.00" y1="583.80" x2="353.00" y2="698.20" stroke="#000" stroke-width="1.5"/>
<line x1="350.50" y1="697.60" x2="399.30" y2="697.60" stroke="#000" stroke-width="1.5"/>
<line x1="350.50" y1="697.60" x2="353.00" y2="697.60" stroke="#000" stroke-width="1.2"/>
<line x1="350.50" y1="652.20" x2="353.00" y2="652.20" stroke="#000" stroke-width="1.2"/>
<line x1="350.50" y1="606.50" x2="353.00" y2="606.50" stroke="#000" stroke-width="1.2"/>
<rect x="356.60" y="625.50" width="18.90" height="72.10" fill="#fff" stroke="#000" stroke-width="1.5"/>
<line x1="366.80" y1="618.50" x2="366.80" y2="631.10" stroke="#000" stroke-width="1.25"/>
<line x1="364.60" y1="618.50" x2="369.00" y2="618.50" stroke="#000" stroke-width="1.25"/>
<line x1="364.60" y1="631.10" x2="369.00" y2="631.10" stroke="#000" stroke-width="1.25"/>
<rect x="375.50" y="617.30" width="21.20" height="80.30" fill="url(#hatch)" stroke="#000" stroke-width="1.5"/>
<line x1="386.30" y1="611.60" x2="386.30" y2="624.00" stroke="#000" stroke-width="1.25"/>
<line x1="384.10" y1="611.60" x2="388.50" y2="611.60" stroke="#000" stroke-width="1.25"/>
<line x1="384.10" y1="624.00" x2="388.50" y2="624.00" stroke="#000" stroke-width="1.25"/>
<line x1="453.75" y1="583.40" x2="453.75" y2="698.20" stroke="#000" stroke-width="1.5"/>
<line x1="451.25" y1="697.60" x2="502.80" y2="697.60" stroke="#000" stroke-width="1.5"/>
<line x1="451.25" y1="697.60" x2="453.75" y2="697.60" stroke="#000" stroke-width="1.2"/>
<line x1="451.25" y1="660.80" x2="453.75" y2="660.80" stroke="#000" stroke-width="1.2"/>
<line x1="451.25" y1="622.90" x2="453.75" y2="622.90" stroke="#000" stroke-width="1.2"/>
<line x1="451.25" y1="584.30" x2="453.75" y2="584.30" stroke="#000" stroke-width="1.2"/>
<rect x="457.70" y="688.40" width="20.60" height="9.20" fill="#fff" stroke="#000" stroke-width="1.5"/>
<line x1="468.10" y1="686.50" x2="468.10" y2="689.30" stroke="#000" stroke-width="1.25"/>
<line x1="465.90" y1="686.50" x2="470.30" y2="686.50" stroke="#000" stroke-width="1.25"/>
<line x1="465.90" y1="689.30" x2="470.30" y2="689.30" stroke="#000" stroke-width="1.25"/>
<rect x="478.30" y="604.90" width="19.50" height="92.70" fill="url(#hatch)" stroke="#000" stroke-width="1.5"/>
<line x1="488.00" y1="591.40" x2="488.00" y2="618.50" stroke="#000" stroke-width="1.25"/>
<line x1="485.80" y1="591.40" x2="490.20" y2="591.40" stroke="#000" stroke-width="1.25"/>
<line x1="485.80" y1="618.50" x2="490.20" y2="618.50" stroke="#000" stroke-width="1.25"/>
<text id="A" x="0" y="0" font-size="17.5" font-weight="bold" font-style="normal" text-anchor="middle" fill="#000" stroke="#000" stroke-width="0.25" transform="translate(6.25,12.50) scale(1.0000,1)">A</text>
<text id="B" x="0" y="0" font-size="17.5" font-weight="bold" font-style="normal" text-anchor="middle" fill="#000" stroke="#000" stroke-width="0.25" transform="translate(7.05,314.50) scale(1.0000,1)">B</text>
<text id="C" x="0" y="0" font-size="17.5" font-weight="bold" font-style="normal" text-anchor="middle" fill="#000" stroke="#000" stroke-width="0.25" transform="translate(292.50,314.10) scale(1.0000,1)">C</text>
<text id="D" x="0" y="0" font-size="17.5" font-weight="bold" font-style="normal" text-anchor="middle" fill="#000" stroke="#000" stroke-width="0.25" transform="translate(5.60,557.20) scale(1.0000,1)">D</text>
<text id="Notch1A" x="0" y="0" font-size="12" font-weight="bold" font-style="normal" text-anchor="middle" fill="#000" stroke="#000" stroke-width="0.25" letter-spacing="0.400" transform="translate(116.80,19.80) scale(1.0000,1)">Notch1</text>
<text id="Notch3A" x="0" y="0" font-size="12" font-weight="bold" font-style="normal" text-anchor="middle" fill="#000" stroke="#000" stroke-width="0.25" letter-spacing="0.800" transform="translate(289.00,20.00) scale(1.0000,1)">Notch3</text>
<text id="Hes1A" x="0" y="0" font-size="12" font-weight="bold" font-style="normal" text-anchor="middle" fill="#000" stroke="#000" stroke-width="0.25" letter-spacing="0.667" transform="translate(120.95,169.20) scale(1.0000,1)">Hes1</text>
<text id="Deltex1A" x="0" y="0" font-size="12" font-weight="bold" font-style="normal" text-anchor="middle" fill="#000" stroke="#000" stroke-width="0.25" letter-spacing="0.667" transform="translate(273.90,169.60) scale(1.0000,1)">Deltex1</text>
<text id="preT" x="0" y="0" font-size="12" font-weight="bold" font-style="normal" text-anchor="middle" fill="#000" stroke="#000" stroke-width="0.25" letter-spacing="0.667" transform="translate(422.85,168.00) scale(1.0000,1)">preT</text>
<text id="Notch1D" x="0" y="0" font-size="12" font-weight="bold" font-style="normal" text-anchor="middle" fill="#000" stroke="#000" stroke-width="0.25" letter-spacing="0.600" transform="translate(116.00,576.30) scale(1.0000,1)">Notch1</text>
<text id="Notch3D" x="0" y="0" font-size="12" font-weight="bold" font-style="normal" text-anchor="middle" fill="#000" stroke="#000" stroke-width="0.25" letter-spacing="0.800" transform="translate(253.85,575.80) scale(1.0000,1)">Notch3</text>
<text id="Hes1D" x="0" y="0" font-size="12" font-weight="bold" font-style="normal" text-anchor="middle" fill="#000" stroke="#000" stroke-width="0.25" letter-spacing="0.333" transform="translate(371.85,576.00) scale(1.0000,1)">Hes1</text>
<text id="Deltex1D" x="0" y="0" font-size="12" font-weight="bold" font-style="normal" text-anchor="middle" fill="#000" stroke="#000" stroke-width="0.25" letter-spacing="0.667" transform="translate(477.50,576.00) scale(1.0000,1)">Deltex1</text>
<text id="alpha" x="0" y="0" font-size="12.5" font-weight="normal" font-style="normal" text-anchor="middle" fill="#000" stroke="#000" stroke-width="0.2" transform="translate(442.75,168.90) scale(1.2261,1)">&#945;</text>
<text id="DN3A1" x="0" y="0" font-size="12.5" font-weight="bold" font-style="normal" text-anchor="middle" fill="#000" stroke="#000" stroke-width="0.25" transform="translate(89.50,136.50) scale(1.0000,1)">DN3</text>
<text id="DN4A1" x="0" y="0" font-size="12.5" font-weight="bold" font-style="normal" text-anchor="middle" fill="#000" stroke="#000" stroke-width="0.25" transform="translate(139.40,137.30) scale(1.0000,1)">DN4</text>
<text id="DN3A2" x="0" y="0" font-size="12.5" font-weight="bold" font-style="normal" text-anchor="middle" fill="#000" stroke="#000" stroke-width="0.25" transform="translate(266.90,137.90) scale(1.0000,1)">DN3</text>
<text id="DN4A2" x="0" y="0" font-size="12.5" font-weight="bold" font-style="normal" text-anchor="middle" fill="#000" stroke="#000" stroke-width="0.25" letter-spacing="0.500" transform="translate(317.50,137.90) scale(1.0000,1)">DN4</text>
<text id="DN3A3" x="0" y="0" font-size="12.5" font-weight="bold" font-style="normal" text-anchor="middle" fill="#000" stroke="#000" stroke-width="0.25" transform="translate(92.50,282.10) scale(1.0000,1)">DN3</text>
<text id="DN4A3" x="0" y="0" font-size="12.5" font-weight="bold" font-style="normal" text-anchor="middle" fill="#000" stroke="#000" stroke-width="0.25" letter-spacing="0.500" transform="translate(142.60,282.10) scale(1.0000,1)">DN4</text>
<text id="DN3A4" x="0" y="0" font-size="12.5" font-weight="bold" font-style="normal" text-anchor="middle" fill="#000" stroke="#000" stroke-width="0.25" letter-spacing="0.500" transform="translate(248.60,282.10) scale(1.0000,1)">DN3</text>
<text id="DN4A4" x="0" y="0" font-size="12.5" font-weight="bold" font-style="normal" text-anchor="middle" fill="#000" stroke="#000" stroke-width="0.25" letter-spacing="0.500" transform="translate(297.05,282.10) scale(1.0000,1)">DN4</text>
<text id="DN3A5" x="0" y="0" font-size="12.5" font-weight="bold" font-style="normal" text-anchor="middle" fill="#000" stroke="#000" stroke-width="0.25" letter-spacing="1.000" transform="translate(399.50,282.10) scale(1.0000,1)">DN3</text>
<text id="DN4A5" x="0" y="0" font-size="12.5" font-weight="bold" font-style="normal" text-anchor="middle" fill="#000" stroke="#000" stroke-width="0.25" transform="translate(445.00,282.10) scale(1.0000,1)">DN4</text>
<text id="DN4C" x="0" y="0" font-size="12.5" font-weight="bold" font-style="normal" text-anchor="middle" fill="#000" stroke="#000" stroke-width="0.25" letter-spacing="-1.000" transform="translate(357.80,473.40) scale(1.0000,1)">DN4</text>
<text id="DN3D1" x="0" y="0" font-size="12.5" font-weight="bold" font-style="normal" text-anchor="middle" fill="#000" stroke="#000" stroke-width="0.25" transform="translate(92.55,712.80) scale(1.0000,1)">DN3</text>
<text id="DN4D1" x="0" y="0" font-size="12.5" font-weight="bold" font-style="normal" text-anchor="middle" fill="#000" stroke="#000" stroke-width="0.25" letter-spacing="0.500" transform="translate(135.60,712.80) scale(1.0000,1)">DN4</text>
<text id="DN3D2" x="0" y="0" font-size="12.5" font-weight="bold" font-style="normal" text-anchor="middle" fill="#000" stroke="#000" stroke-width="0.25" letter-spacing="0.500" transform="translate(231.20,712.80) scale(1.0000,1)">DN3</text>
<text id="DN4D2" x="0" y="0" font-size="12.5" font-weight="bold" font-style="normal" text-anchor="middle" fill="#000" stroke="#000" stroke-width="0.25" letter-spacing="0.500" transform="translate(279.40,712.80) scale(1.0000,1)">DN4</text>
<text id="DN3D3" x="0" y="0" font-size="12.5" font-weight="bold" font-style="normal" text-anchor="middle" fill="#000" stroke="#000" stroke-width="0.25" letter-spacing="0.500" transform="translate(376.50,712.80) scale(1.0000,1)">DN3</text>
<text id="DN4D4" x="0" y="0" font-size="12.5" font-weight="bold" font-style="normal" text-anchor="middle" fill="#000" stroke="#000" stroke-width="0.25" letter-spacing="0.500" transform="translate(476.70,712.80) scale(1.0000,1)">DN4</text>
<text id="DN3B" x="0" y="0" font-size="12.5" font-weight="bold" font-style="normal" text-anchor="middle" fill="#000" stroke="#000" stroke-width="0.25" transform="translate(14.00,356.40) scale(1.0000,1)">DN3</text>
<text id="DN4B" x="0" y="0" font-size="12.5" font-weight="bold" font-style="normal" text-anchor="middle" fill="#000" stroke="#000" stroke-width="0.25" letter-spacing="0.500" transform="translate(13.50,462.70) scale(1.0000,1)">DN4</text>
<text id="WT_B" x="0" y="0" font-size="13" font-weight="bold" font-style="normal" text-anchor="middle" fill="#000" stroke="#000" stroke-width="0.25" letter-spacing="0.500" transform="translate(92.50,316.40) scale(1.0000,1)">WT</text>
<text id="Vav_B" x="0" y="0" font-size="12" font-weight="bold" font-style="italic" text-anchor="middle" fill="#000" stroke="#000" stroke-width="0.25" letter-spacing="0.625" transform="translate(195.00,317.50) scale(1.0000,1)">Vav1/Vav2/Vav3<tspan font-size="7" dy="-4.2">-/-</tspan></text>
<text id="IcTCR" x="0" y="0" font-size="12" font-weight="bold" font-style="normal" text-anchor="middle" fill="#000" stroke="#000" stroke-width="0.25" letter-spacing="0.800" transform="translate(136.60,525.50) scale(1.0000,1)">IcTCR&#946;</text>
<text id="cellnum" x="0" y="0" font-size="12.5" font-weight="bold" font-style="normal" text-anchor="middle" fill="#000" stroke="#000" stroke-width="0.25" letter-spacing="0.200" transform="translate(39.20,403.95) rotate(-90) scale(1.0000,1)">cell number</text>
<text id="n29" x="0" y="0" font-size="12" font-weight="normal" font-style="normal" text-anchor="middle" fill="#222" stroke="#222" stroke-width="0.2" letter-spacing="1.000" transform="translate(116.45,358.40) scale(1.0000,1)">29</text>
<text id="n36" x="0" y="0" font-size="12" font-weight="normal" font-style="normal" text-anchor="middle" fill="#222" stroke="#222" stroke-width="0.2" transform="translate(208.50,358.40) scale(1.0000,1)">36</text>
<text id="n96" x="0" y="0" font-size="12" font-weight="normal" font-style="normal" text-anchor="middle" fill="#222" stroke="#222" stroke-width="0.2" transform="translate(116.25,435.20) scale(1.0000,1)">96</text>
<text id="n56" x="0" y="0" font-size="12" font-weight="normal" font-style="normal" text-anchor="middle" fill="#222" stroke="#222" stroke-width="0.2" transform="translate(208.50,435.20) scale(1.0000,1)">56</text>
<text id="ylA1" x="0" y="0" font-size="11.5" font-weight="bold" font-style="normal" text-anchor="middle" fill="#000" stroke="#000" stroke-width="0.1" letter-spacing="0.687" transform="translate(40.30,70.35) rotate(-90) scale(1.0000,1)">Expression (x10<tspan font-size="7" dy="-4.2">3</tspan><tspan dy="4.2">)</tspan></text>
<text id="ylA2" x="0" y="0" font-size="11.5" font-weight="bold" font-style="normal" text-anchor="middle" fill="#000" stroke="#000" stroke-width="0.1" letter-spacing="0.312" transform="translate(219.50,70.10) rotate(-90) scale(1.0000,1)">Expression (x10<tspan font-size="7" dy="-4.2">4</tspan><tspan dy="4.2">)</tspan></text>
<text id="ylA3" x="0" y="0" font-size="11.5" font-weight="bold" font-style="normal" text-anchor="middle" fill="#000" stroke="#000" stroke-width="0.1" letter-spacing="0.313" transform="translate(41.60,215.10) rotate(-90) scale(1.0000,1)">Expression (x10<tspan font-size="7" dy="-4.2">2</tspan><tspan dy="4.2">)</tspan></text>
<text id="ylC" x="0" y="0" font-size="11.5" font-weight="bold" font-style="normal" text-anchor="middle" fill="#000" stroke="#000" stroke-width="0.1" letter-spacing="0.529" transform="translate(300.80,400.90) rotate(-90) scale(1.0000,1)">Cell number (x10<tspan font-size="7" dy="-4.2">6</tspan><tspan dy="4.2">)</tspan></text>
<text id="ylD" x="0" y="0" font-size="11.5" font-weight="bold" font-style="normal" text-anchor="middle" fill="#000" stroke="#000" stroke-width="0.1" letter-spacing="0.375" transform="translate(44.60,638.55) rotate(-90) scale(1.0000,1)">Expression (x10<tspan font-size="7" dy="-4.2">3</tspan><tspan dy="4.2">)</tspan></text>
<text id="WT_legA" x="0" y="0" font-size="10.5" font-weight="bold" font-style="normal" text-anchor="middle" fill="#000" stroke="#000" stroke-width="0.1" letter-spacing="0.200" transform="translate(406.50,66.70) scale(1.0000,1)">WT</text>
<text id="Rac_legA" x="0" y="0" font-size="11.5" font-weight="bold" font-style="italic" text-anchor="middle" fill="#000" letter-spacing="-0.542" transform="translate(430.00,85.25) scale(1.0000,1)">Rac1<tspan font-size="6.5" dy="-4.2">T</tspan><tspan dy="4.2"> Rac2</tspan><tspan font-size="6" dy="-4.2" letter-spacing="0.4">-/-</tspan></text>
<text id="WT_legC" x="0" y="0" font-size="10.5" font-weight="bold" font-style="normal" text-anchor="middle" fill="#000" stroke="#000" stroke-width="0.1" letter-spacing="0.200" transform="translate(433.50,391.60) scale(1.0000,1)">WT</text>
<text id="Vav_legC" x="0" y="0" font-size="11" font-weight="normal" font-style="italic" text-anchor="middle" fill="#000" stroke="#000" stroke-width="0.1" letter-spacing="0.125" transform="translate(471.10,410.70) scale(1.0000,1)">Vav1/Vav2/Vav3<tspan font-size="6.5" dy="-4.2">-/-</tspan></text>
<text id="star0" x="0" y="0" font-size="7.5" font-weight="bold" font-style="normal" text-anchor="middle" fill="#333" stroke="#333" stroke-width="0.6" transform="translate(99.10,176.70) scale(1.0000,1)">*</text>
<text id="star1" x="0" y="0" font-size="7.5" font-weight="bold" font-style="normal" text-anchor="middle" fill="#333" stroke="#333" stroke-width="0.6" transform="translate(104.60,176.70) scale(1.0000,1)">*</text>
<text id="star2" x="0" y="0" font-size="7.5" font-weight="bold" font-style="normal" text-anchor="middle" fill="#333" stroke="#333" stroke-width="0.6" transform="translate(110.10,176.70) scale(1.0000,1)">*</text>
<text id="star3" x="0" y="0" font-size="7.5" font-weight="bold" font-style="normal" text-anchor="middle" fill="#333" stroke="#333" stroke-width="0.6" transform="translate(324.40,29.80) scale(1.0000,1)">*</text>
<text id="star4" x="0" y="0" font-size="7.5" font-weight="bold" font-style="normal" text-anchor="middle" fill="#333" stroke="#333" stroke-width="0.6" transform="translate(329.70,29.80) scale(1.0000,1)">*</text>
<text id="star5" x="0" y="0" font-size="7.5" font-weight="bold" font-style="normal" text-anchor="middle" fill="#333" stroke="#333" stroke-width="0.6" transform="translate(304.60,220.80) scale(1.0000,1)">*</text>
<text id="star6" x="0" y="0" font-size="7.5" font-weight="bold" font-style="normal" text-anchor="middle" fill="#333" stroke="#333" stroke-width="0.6" transform="translate(309.60,220.80) scale(1.0000,1)">*</text>
<text id="star7" x="0" y="0" font-size="7.5" font-weight="bold" font-style="normal" text-anchor="middle" fill="#333" stroke="#333" stroke-width="0.6" transform="translate(405.10,183.40) scale(1.0000,1)">*</text>
<text id="star8" x="0" y="0" font-size="7.5" font-weight="bold" font-style="normal" text-anchor="middle" fill="#333" stroke="#333" stroke-width="0.6" transform="translate(410.60,183.40) scale(1.0000,1)">*</text>
<text id="star9" x="0" y="0" font-size="7.5" font-weight="bold" font-style="normal" text-anchor="middle" fill="#333" stroke="#333" stroke-width="0.6" transform="translate(416.10,183.40) scale(1.0000,1)">*</text>
<text id="star10" x="0" y="0" font-size="7.5" font-weight="bold" font-style="normal" text-anchor="middle" fill="#333" stroke="#333" stroke-width="0.6" transform="translate(454.70,249.00) scale(1.0000,1)">*</text>
<text id="star11" x="0" y="0" font-size="7.5" font-weight="bold" font-style="normal" text-anchor="middle" fill="#333" stroke="#333" stroke-width="0.6" transform="translate(372.10,353.30) scale(1.0000,1)">*</text>
<text id="star12" x="0" y="0" font-size="7.5" font-weight="bold" font-style="normal" text-anchor="middle" fill="#333" stroke="#333" stroke-width="0.6" transform="translate(140.70,637.90) scale(1.0000,1)">*</text>
<text id="star13" x="0" y="0" font-size="7.5" font-weight="bold" font-style="normal" text-anchor="middle" fill="#333" stroke="#333" stroke-width="0.6" transform="translate(145.70,637.90) scale(1.0000,1)">*</text>
<text id="star14" x="0" y="0" font-size="7.5" font-weight="bold" font-style="normal" text-anchor="middle" fill="#333" stroke="#333" stroke-width="0.6" transform="translate(151.70,637.90) scale(1.0000,1)">*</text>
<text id="star15" x="0" y="0" font-size="7.5" font-weight="bold" font-style="normal" text-anchor="middle" fill="#333" stroke="#333" stroke-width="0.6" transform="translate(239.40,632.90) scale(1.0000,1)">*</text>
<text id="star16" x="0" y="0" font-size="7.5" font-weight="bold" font-style="normal" text-anchor="middle" fill="#333" stroke="#333" stroke-width="0.6" transform="translate(283.50,675.30) scale(1.0000,1)">*</text>
<text id="star17" x="0" y="0" font-size="7.5" font-weight="bold" font-style="normal" text-anchor="middle" fill="#333" stroke="#333" stroke-width="0.6" transform="translate(288.40,675.30) scale(1.0000,1)">*</text>
<text id="star18" x="0" y="0" font-size="7.5" font-weight="bold" font-style="normal" text-anchor="middle" fill="#333" stroke="#333" stroke-width="0.6" transform="translate(294.30,675.30) scale(1.0000,1)">*</text>
<text id="star19" x="0" y="0" font-size="7.5" font-weight="bold" font-style="normal" text-anchor="middle" fill="#333" stroke="#333" stroke-width="0.6" transform="translate(480.90,590.80) scale(1.0000,1)">*</text>
<text id="star20" x="0" y="0" font-size="7.5" font-weight="bold" font-style="normal" text-anchor="middle" fill="#333" stroke="#333" stroke-width="0.6" transform="translate(486.80,590.80) scale(1.0000,1)">*</text>
<text id="star21" x="0" y="0" font-size="7.5" font-weight="bold" font-style="normal" text-anchor="middle" fill="#333" stroke="#333" stroke-width="0.6" transform="translate(492.00,590.80) scale(1.0000,1)">*</text>
<text id="tk_A1_0" x="0" y="0" font-size="12" font-weight="normal" font-style="normal" text-anchor="middle" fill="#111" stroke="#111" stroke-width="0.2" transform="translate(56.53,127.00) scale(1.0400,1)">0</text>
<text id="tk_A1_4" x="0" y="0" font-size="12" font-weight="normal" font-style="normal" text-anchor="middle" fill="#111" stroke="#111" stroke-width="0.2" transform="translate(56.53,96.40) scale(1.0400,1)">4</text>
<text id="tk_A1_8" x="0" y="0" font-size="12" font-weight="normal" font-style="normal" text-anchor="middle" fill="#111" stroke="#111" stroke-width="0.2" transform="translate(56.53,66.40) scale(1.0400,1)">8</text>
<text id="tk_A1_12" x="0" y="0" font-size="12" font-weight="normal" font-style="normal" text-anchor="middle" fill="#111" stroke="#111" stroke-width="0.2" transform="translate(53.20,36.40) scale(1.0400,1)">12</text>
<text id="tk_A2_0" x="0" y="0" font-size="12" font-weight="normal" font-style="normal" text-anchor="middle" fill="#111" stroke="#111" stroke-width="0.2" transform="translate(232.52,124.60) scale(1.0400,1)">0</text>
<text id="tk_A2_4" x="0" y="0" font-size="12" font-weight="normal" font-style="normal" text-anchor="middle" fill="#111" stroke="#111" stroke-width="0.2" transform="translate(232.52,98.40) scale(1.0400,1)">4</text>
<text id="tk_A2_8" x="0" y="0" font-size="12" font-weight="normal" font-style="normal" text-anchor="middle" fill="#111" stroke="#111" stroke-width="0.2" transform="translate(232.52,68.20) scale(1.0400,1)">8</text>
<text id="tk_A2_12" x="0" y="0" font-size="12" font-weight="normal" font-style="normal" text-anchor="middle" fill="#111" stroke="#111" stroke-width="0.2" transform="translate(229.20,38.40) scale(1.0400,1)">12</text>
<text id="tk_A3_0" x="0" y="0" font-size="12" font-weight="normal" font-style="normal" text-anchor="middle" fill="#111" stroke="#111" stroke-width="0.2" transform="translate(60.32,272.60) scale(1.0400,1)">0</text>
<text id="tk_A3_0.5" x="0" y="0" font-size="12" font-weight="normal" font-style="normal" text-anchor="middle" fill="#111" stroke="#111" stroke-width="0.2" transform="translate(54.55,262.60) scale(1.0400,1)">0.5</text>
<text id="tk_A3_20" x="0" y="0" font-size="12" font-weight="normal" font-style="normal" text-anchor="middle" fill="#111" stroke="#111" stroke-width="0.2" transform="translate(56.00,236.80) scale(1.0400,1)">20</text>
<text id="tk_A3_40" x="0" y="0" font-size="12" font-weight="normal" font-style="normal" text-anchor="middle" fill="#111" stroke="#111" stroke-width="0.2" transform="translate(56.00,205.80) scale(1.0400,1)">40</text>
<text id="tk_A3_60" x="0" y="0" font-size="12" font-weight="normal" font-style="normal" text-anchor="middle" fill="#111" stroke="#111" stroke-width="0.2" transform="translate(56.00,175.60) scale(1.0400,1)">60</text>
<text id="tk_A4_0" x="0" y="0" font-size="12" font-weight="normal" font-style="normal" text-anchor="middle" fill="#111" stroke="#111" stroke-width="0.2" transform="translate(216.73,271.20) scale(1.0400,1)">0</text>
<text id="tk_A4_1" x="0" y="0" font-size="12" font-weight="normal" font-style="normal" text-anchor="middle" fill="#111" stroke="#111" stroke-width="0.2" transform="translate(216.73,255.00) scale(1.0400,1)">1</text>
<text id="tk_A4_2" x="0" y="0" font-size="12" font-weight="normal" font-style="normal" text-anchor="middle" fill="#111" stroke="#111" stroke-width="0.2" transform="translate(216.73,240.00) scale(1.0400,1)">2</text>
<text id="tk_A4_3" x="0" y="0" font-size="12" font-weight="normal" font-style="normal" text-anchor="middle" fill="#111" stroke="#111" stroke-width="0.2" transform="translate(216.73,222.60) scale(1.0400,1)">3</text>
<text id="tk_A4_20" x="0" y="0" font-size="12" font-weight="normal" font-style="normal" text-anchor="middle" fill="#111" stroke="#111" stroke-width="0.2" transform="translate(213.40,201.20) scale(1.0400,1)">20</text>
<text id="tk_A4_30" x="0" y="0" font-size="12" font-weight="normal" font-style="normal" text-anchor="middle" fill="#111" stroke="#111" stroke-width="0.2" transform="translate(213.40,177.20) scale(1.0400,1)">30</text>
<text id="tk_A5_0" x="0" y="0" font-size="12" font-weight="normal" font-style="normal" text-anchor="middle" fill="#111" stroke="#111" stroke-width="0.2" transform="translate(368.72,271.40) scale(1.0400,1)">0</text>
<text id="tk_A5_2" x="0" y="0" font-size="12" font-weight="normal" font-style="normal" text-anchor="middle" fill="#111" stroke="#111" stroke-width="0.2" transform="translate(368.72,250.00) scale(1.0400,1)">2</text>
<text id="tk_A5_4" x="0" y="0" font-size="12" font-weight="normal" font-style="normal" text-anchor="middle" fill="#111" stroke="#111" stroke-width="0.2" transform="translate(368.72,225.80) scale(1.0400,1)">4</text>
<text id="tk_A5_6" x="0" y="0" font-size="12" font-weight="normal" font-style="normal" text-anchor="middle" fill="#111" stroke="#111" stroke-width="0.2" transform="translate(368.72,202.40) scale(1.0400,1)">6</text>
<text id="tk_A5_8" x="0" y="0" font-size="12" font-weight="normal" font-style="normal" text-anchor="middle" fill="#111" stroke="#111" stroke-width="0.2" transform="translate(368.72,178.40) scale(1.0400,1)">8</text>
<text id="tk_C_0" x="0" y="0" font-size="12" font-weight="normal" font-style="normal" text-anchor="middle" fill="#111" stroke="#111" stroke-width="0.2" transform="translate(321.32,462.40) scale(1.0400,1)">0</text>
<text id="tk_C_0.5" x="0" y="0" font-size="12" font-weight="normal" font-style="normal" text-anchor="middle" fill="#111" stroke="#111" stroke-width="0.2" transform="translate(315.55,435.20) scale(1.0400,1)">0.5</text>
<text id="tk_C_1" x="0" y="0" font-size="12" font-weight="normal" font-style="normal" text-anchor="middle" fill="#111" stroke="#111" stroke-width="0.2" transform="translate(321.32,406.60) scale(1.0400,1)">1</text>
<text id="tk_C_1.5" x="0" y="0" font-size="12" font-weight="normal" font-style="normal" text-anchor="middle" fill="#111" stroke="#111" stroke-width="0.2" transform="translate(315.55,379.00) scale(1.0400,1)">1.5</text>
<text id="tk_C_2" x="0" y="0" font-size="12" font-weight="normal" font-style="normal" text-anchor="middle" fill="#111" stroke="#111" stroke-width="0.2" transform="translate(321.32,350.80) scale(1.0400,1)">2</text>
<text id="tk_D1_0" x="0" y="0" font-size="12" font-weight="normal" font-style="normal" text-anchor="middle" fill="#111" stroke="#111" stroke-width="0.2" transform="translate(61.93,701.80) scale(1.0400,1)">0</text>
<text id="tk_D1_10" x="0" y="0" font-size="12" font-weight="normal" font-style="normal" text-anchor="middle" fill="#111" stroke="#111" stroke-width="0.2" transform="translate(58.60,674.60) scale(1.0400,1)">10</text>
<text id="tk_D1_20" x="0" y="0" font-size="12" font-weight="normal" font-style="normal" text-anchor="middle" fill="#111" stroke="#111" stroke-width="0.2" transform="translate(58.60,646.80) scale(1.0400,1)">20</text>
<text id="tk_D1_30" x="0" y="0" font-size="12" font-weight="normal" font-style="normal" text-anchor="middle" fill="#111" stroke="#111" stroke-width="0.2" transform="translate(58.60,617.80) scale(1.0400,1)">30</text>
<text id="tk_D1_40" x="0" y="0" font-size="12" font-weight="normal" font-style="normal" text-anchor="middle" fill="#111" stroke="#111" stroke-width="0.2" transform="translate(58.60,590.00) scale(1.0400,1)">40</text>
<text id="tk_D2_0" x="0" y="0" font-size="12" font-weight="normal" font-style="normal" text-anchor="middle" fill="#111" stroke="#111" stroke-width="0.2" transform="translate(199.33,702.60) scale(1.0400,1)">0</text>
<text id="tk_D2_100" x="0" y="0" font-size="12" font-weight="normal" font-style="normal" text-anchor="middle" fill="#111" stroke="#111" stroke-width="0.2" transform="translate(192.68,663.80) scale(1.0400,1)">100</text>
<text id="tk_D2_200" x="0" y="0" font-size="12" font-weight="normal" font-style="normal" text-anchor="middle" fill="#111" stroke="#111" stroke-width="0.2" transform="translate(192.68,627.60) scale(1.0400,1)">200</text>
<text id="tk_D2_300" x="0" y="0" font-size="12" font-weight="normal" font-style="normal" text-anchor="middle" fill="#111" stroke="#111" stroke-width="0.2" transform="translate(192.68,590.80) scale(1.0400,1)">300</text>
<text id="tk_D3_0" x="0" y="0" font-size="12" font-weight="normal" font-style="normal" text-anchor="middle" fill="#111" stroke="#111" stroke-width="0.2" transform="translate(345.53,700.40) scale(1.0400,1)">0</text>
<text id="tk_D3_1000" x="0" y="0" font-size="12" font-weight="normal" font-style="normal" text-anchor="middle" fill="#111" stroke="#111" stroke-width="0.2" transform="translate(334.55,656.20) scale(1.0400,1)">1000</text>
<text id="tk_D3_2000" x="0" y="0" font-size="12" font-weight="normal" font-style="normal" text-anchor="middle" fill="#111" stroke="#111" stroke-width="0.2" transform="translate(334.55,610.60) scale(1.0400,1)">2000</text>
<text id="tk_D4_0" x="0" y="0" font-size="12" font-weight="normal" font-style="normal" text-anchor="middle" fill="#111" stroke="#111" stroke-width="0.2" transform="translate(445.72,701.80) scale(1.0400,1)">0</text>
<text id="tk_D4_400" x="0" y="0" font-size="12" font-weight="normal" font-style="normal" text-anchor="middle" fill="#111" stroke="#111" stroke-width="0.2" transform="translate(439.07,663.80) scale(1.0400,1)">400</text>
<text id="tk_D4_800" x="0" y="0" font-size="12" font-weight="normal" font-style="normal" text-anchor="middle" fill="#111" stroke="#111" stroke-width="0.2" transform="translate(439.07,625.60) scale(1.0400,1)">800</text>
<text id="tk_D4_1200" x="0" y="0" font-size="12" font-weight="normal" font-style="normal" text-anchor="middle" fill="#111" stroke="#111" stroke-width="0.2" transform="translate(435.75,587.60) scale(1.0400,1)">1200</text>
</svg></body></html>
